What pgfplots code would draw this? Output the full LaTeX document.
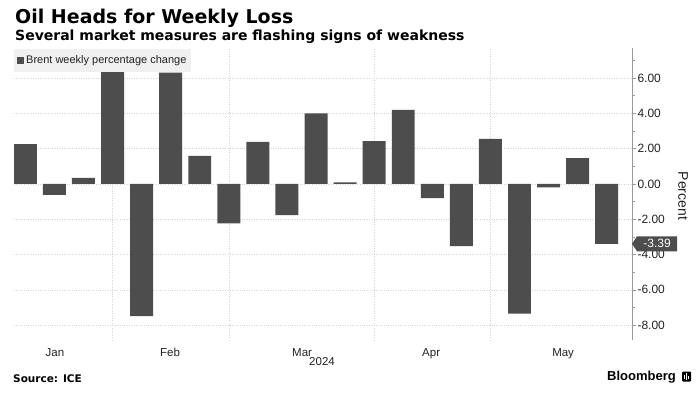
\documentclass[border=0pt]{standalone}
\usepackage{pgfplots}
\pgfplotsset{compat=1.18}
\usepackage{fontspec}
\setmainfont{Liberation Sans}
\newfontfamily\titlefont{DejaVu Sans}
\definecolor{barc}{HTML}{4D4D4D}
\definecolor{gridc}{HTML}{D4D4D4}
\definecolor{legc}{HTML}{F0F0F0}
\definecolor{axc}{HTML}{999999}
\definecolor{txtc}{HTML}{222222}
\begin{document}
\begin{tikzpicture}
\useasboundingbox (0,0) rectangle (698pt,399pt);
\begin{axis}[
  at={(14pt,59pt)}, anchor=south west,
  scale only axis, width=618pt, height=292pt,
  xmin=-0.39, xmax=20.87, ymin=-8.84, ymax=7.7,
  axis x line*=bottom, axis y line*=right,
  x axis line style={draw=none},
  y axis line style={draw=axc, line width=0.8pt},
  xtick={1.02,4.98,9.52,13.96,18.5},
  xticklabels={Jan,Feb,Mar,Apr,May},
  x tick style={draw=none},
  xticklabel style={anchor=base, yshift=-12pt, font=\fontsize{11.5}{12}\selectfont, text=txtc},
  extra x ticks={3,7,12,16},
  extra x tick labels={},
  extra x tick style={grid=major, major tick length=0pt},
  ytick={-8,-6,...,6},
  minor ytick={-7,-5,...,7},
  tick align=outside,
  major tick length=4pt, minor tick length=3pt,
  y tick style={draw=axc, line width=0.6pt},
  ymajorgrids=true,
  grid style={dotted, draw=gridc, line width=0.5pt},
  yticklabel style={anchor=west, xshift=-2pt, font=\fontsize{12}{12}\selectfont, text=txtc,
    /pgf/number format/.cd, fixed, fixed zerofill, precision=2, assume math mode=true},
  legend style={at={(0,1)}, anchor=north west, yshift=-1pt, fill=legc, draw=none,
    font=\fontsize{11}{12}\selectfont, text=txtc, inner xsep=3pt, inner ysep=4.5pt},
  legend image code/.code={\fill[barc] (0pt,-3.5pt) rectangle (7pt,3.5pt);},
]
\addplot[ybar, bar width=0.79, fill=barc, draw=none] coordinates {
(0,2.25) (1,-0.62) (2,0.34) (3,6.35) (4,-7.49) (5,6.30) (6,1.59) (7,-2.23)
(8,2.38) (9,-1.76) (10,3.99) (11,0.09) (12,2.42) (13,4.20) (14,-0.81)
(15,-3.52) (16,2.55) (17,-7.35) (18,-0.19) (19,1.46) (20,-3.39)};
\addlegendentry{Brent weekly percentage change}
\coordinate (cl) at (axis cs:20.87,-3.39);
\end{axis}
\fill[barc] (cl) -- ++(5pt,7.5pt) -- ++(40pt,0) -- ++(0,-15pt) -- ++(-40pt,0) -- cycle;
\node[text=white, font=\fontsize{12}{12}\selectfont, xshift=25pt] at (cl) {-3.39};
\node[anchor=base west, inner sep=0, font=\titlefont\bfseries\fontsize{19}{19}\selectfont, text=black] at (15pt,375pt) {Oil Heads for Weekly Loss};
\node[anchor=base west, inner sep=0, font=\titlefont\bfseries\fontsize{14}{14}\selectfont, text=black] at (15pt,358pt) {Several market measures are flashing signs of weakness};
\node[rotate=-90, font=\fontsize{14}{14}\selectfont, text=txtc] at (683pt,203pt) {Percent};
\node[font=\fontsize{11.5}{12}\selectfont, text=txtc] at (322pt,37pt) {2024};
\node[anchor=base west, inner sep=0, font=\titlefont\bfseries\fontsize{10.5}{11}\selectfont] at (13pt,17pt) {Source: ICE};
\node[anchor=base east, inner sep=0, font=\bfseries\fontsize{13}{13}\selectfont] at (676pt,18.5pt) {Bloomberg};
\fill[black, rounded corners=1pt] (682pt,17.5pt) rectangle (691pt,27.5pt);
\draw[white, line width=1pt] (684.5pt,20pt) -- (684.5pt,24pt) (686.5pt,19.5pt) -- (686.5pt,26pt) (688.5pt,20pt) -- (688.5pt,23pt);
\end{tikzpicture}
\end{document}
